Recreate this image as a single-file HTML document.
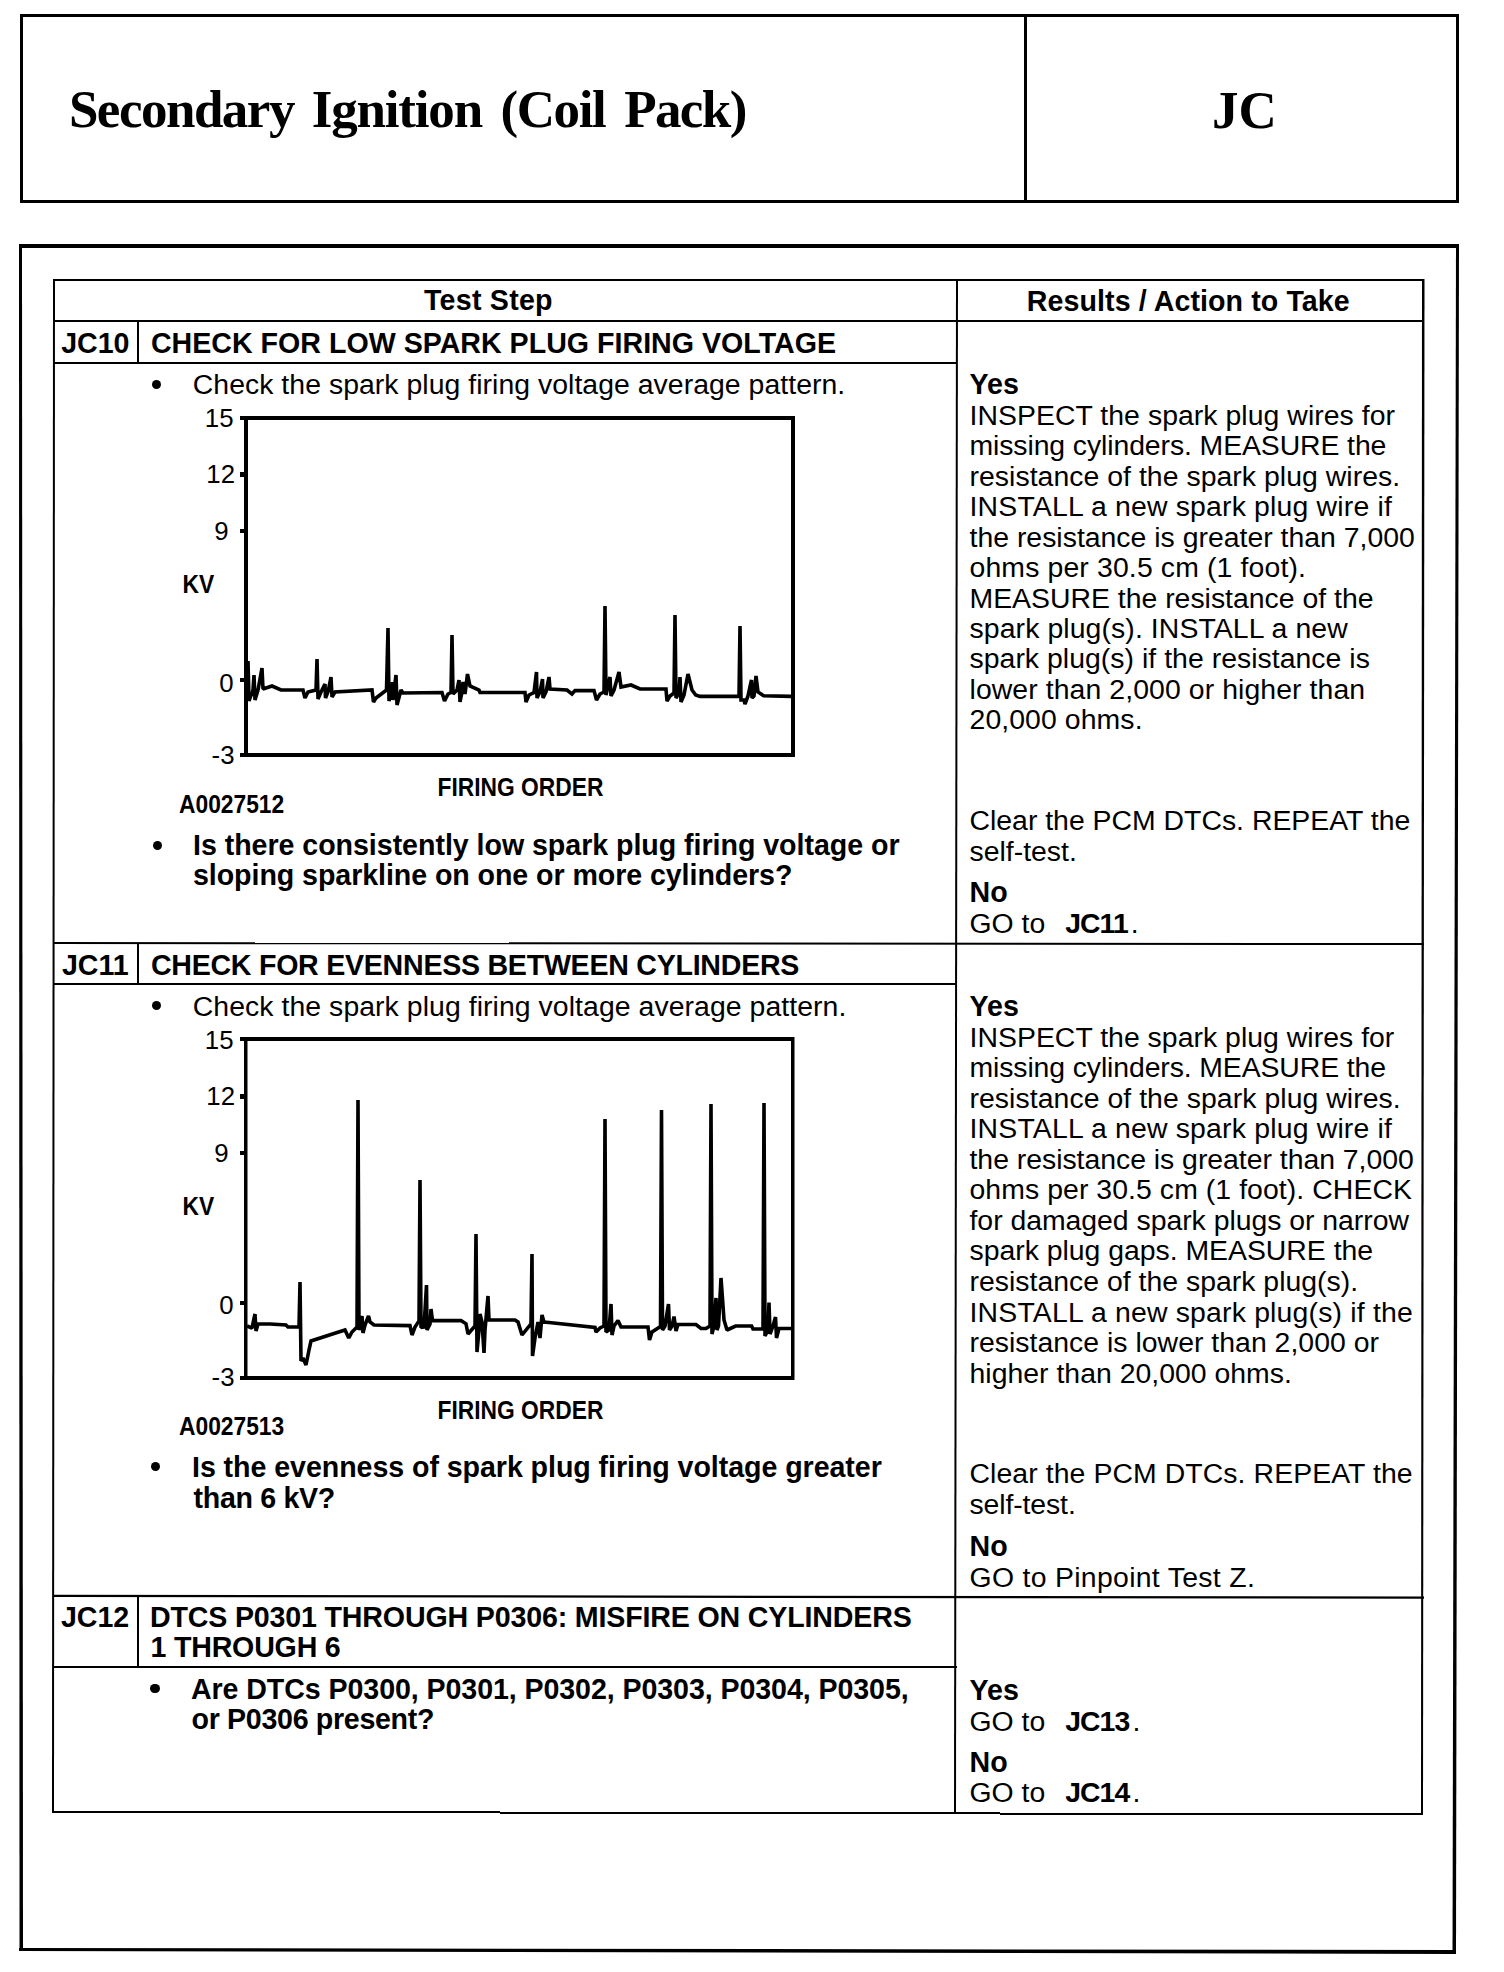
<!DOCTYPE html>
<html><head><meta charset="utf-8"><style>
html,body{margin:0;padding:0;background:#fff;}
body{width:1504px;height:1972px;position:relative;overflow:hidden;color:#000;font-family:'Liberation Sans', sans-serif;}
.t{position:absolute;white-space:pre;line-height:1;}
.r{position:absolute;background:#000;}
.g{position:absolute;left:0;top:0;}
.b{position:absolute;background:#000;border-radius:50%;}
</style></head><body>
<div class="r" style="left:20px;top:14px;width:1439px;height:3px"></div><div class="r" style="left:20px;top:200px;width:1439px;height:3px"></div><div class="r" style="left:20px;top:14px;width:3px;height:189px"></div><div class="r" style="left:1456px;top:14px;width:3px;height:189px"></div><div class="r" style="left:1024px;top:14px;width:3px;height:189px"></div><div class="r" style="left:19px;top:244px;width:1440px;height:4px"></div><div class="r" style="left:53px;top:279px;width:1371px;height:2px"></div><div class="r" style="left:53px;top:1811px;width:447px;height:2px"></div><div class="r" style="left:500px;top:1812px;width:500px;height:2px"></div><div class="r" style="left:1000px;top:1813px;width:423px;height:2px"></div><div class="r" style="left:53px;top:320px;width:1371px;height:2px"></div><div class="r" style="left:53px;top:362px;width:904px;height:2px"></div><div class="r" style="left:137px;top:321px;width:2px;height:42px"></div><div class="r" style="left:53px;top:983px;width:904px;height:2px"></div><div class="r" style="left:137px;top:943px;width:2px;height:41px"></div><div class="r" style="left:53px;top:1666px;width:904px;height:2px"></div><div class="r" style="left:137px;top:1596px;width:2px;height:71px"></div><div class="b" style="left:151.80px;top:379.80px;width:9.4px;height:9.4px"></div><div class="b" style="left:152.80px;top:840.80px;width:9.4px;height:9.4px"></div><div class="b" style="left:151.80px;top:1000.60px;width:9.4px;height:9.4px"></div><div class="b" style="left:150.80px;top:1461.80px;width:9.4px;height:9.4px"></div><div class="b" style="left:150.30px;top:1683.80px;width:9.4px;height:9.4px"></div>
<svg class="g" width="1504" height="1972" viewBox="0 0 1504 1972">
<g fill="#000">
<polygon points="19,1948 1456,1950 1456,1954 19,1951"/><polygon points="19,244 22,244 23,1951 19.5,1951"/><polygon points="1456,244 1459,244 1456,1954 1452.5,1954"/><polygon points="53,279 55,279 54,1813 52,1813"/><polygon points="1422,279 1424.5,279 1423,1815 1421,1815"/><polygon points="956,279 958,279 956,1814 954,1814"/><polygon points="53,942 1424,943 1424,945 53,944"/><polygon points="53,1594.8 1424,1596.5 1424,1598.7 53,1597"/>
<rect x="240" y="416" width="555" height="4"/>
<rect x="240" y="753" width="555" height="4"/>
<rect x="244" y="416" width="4" height="341"/>
<rect x="791" y="416" width="4" height="341"/>
<rect x="240" y="472" width="5" height="5"/>
<rect x="240" y="529" width="5" height="4"/>
<rect x="240" y="678" width="5" height="4"/>
<rect x="240" y="1037" width="554" height="4"/>
<rect x="240" y="1376" width="554" height="4"/>
<rect x="244" y="1037" width="3.5" height="343"/>
<rect x="791" y="1037" width="3.5" height="343"/>
<rect x="240" y="1094" width="5" height="5"/>
<rect x="240" y="1151" width="5" height="4"/>
<rect x="240" y="1301" width="5" height="4"/>
</g>
<g fill="none" stroke="#000" stroke-linejoin="miter" stroke-miterlimit="1.5">
<path d="M247,686 L248,661 L249,701 L253,690 L254,675 L255,700 L258,690 L262,668 L263,689 L272,686 L281,690 L303,690 L305,698 L308,692 L316,690 L317,659 L318,699 L321,692 L325,684 L325.5,698 L328,692 L331,677 L332,697 L335,692 L372,690 L373.5,702 L376,698 L386.5,690 L388,628 L389,701 L392,690 L392.5,682 L393,700 L396,675 L397,705 L401,690 L403,693 L442,692.5 L444.5,701 L448,694 L451,692.5 L452,635 L453,694 L457,690 L459,680 L460,702 L462,692 L463,682 L465,694 L467.5,674 L470,686 L479,690 L480,692.5 L525,692.5 L526,702 L529,695 L534,692.5 L536.5,672 L537,698 L540,692 L542.5,679 L543,698 L546,692 L549,677 L550,689 L567,690 L572,694 L575,690.6 L594,690.6 L596.5,700 L600,694 L604,692 L605,606 L606,695 L610,677 L611,696 L614,690 L619,672 L621,687 L631,685 L640,689 L666,689 L667,701 L670,696 L674,693 L675,615 L676,698 L679,693 L680,677 L681,702 L684,695 L688,674 L692,690 L695.7,695 L700,696.4 L739,696.4 L740,626 L741,700 L744,700 L745,704 L748,696 L751.5,680 L752,698 L754,696 L756,676 L758,692 L763.6,695.7 L791,696.4" stroke-width="3.6"/>
<path d="M247,1326 L252,1328 L255,1314 L256,1331 L258,1324 L270,1324 L286,1325 L288,1327 L299,1327 L300,1282 L301,1361 L303,1358 L306,1365 L309,1350 L311,1341 L332.5,1334 L345,1330 L348.75,1338 L352,1332 L357,1327 L358,1100 L359,1330 L362,1316 L363,1333 L365,1325 L368.5,1316 L370,1322 L374,1325 L410,1325.6 L412,1335 L415,1327 L419,1321 L420,1180 L421,1327.5 L424,1327 L426.5,1285 L427,1330 L430,1324 L431,1309 L432.5,1320.6 L461,1320.6 L466,1323.75 L468,1334 L475,1326 L476,1234 L477,1352 L479,1330 L480,1314 L482,1322 L484,1353 L485,1330 L488,1296 L489,1320 L515,1320 L518,1322 L522,1335 L531,1323.75 L532,1254 L532.5,1356 L535,1338 L538,1322 L540,1338 L542,1315 L544,1322 L549,1322.5 L595,1327.5 L596,1332 L600,1328 L604,1326 L605,1119 L606,1332 L609,1330 L611,1304 L612,1335 L614,1326 L618,1320.5 L621,1327 L648,1327 L649.5,1340 L652,1332 L660.5,1326.5 L661.5,1110 L662.5,1330 L665,1326 L668.5,1304 L669.5,1330 L672,1326 L674,1316.5 L676,1331 L678,1324.5 L696,1324.5 L701,1328.5 L706,1328.5 L710,1326 L711,1104 L712,1334 L714,1326 L716,1298 L717,1330 L718.5,1326 L721,1278 L724,1320 L727,1330 L735.6,1326 L751.6,1326 L753,1329 L763,1329 L764,1103 L765,1336 L768,1330 L769,1302.6 L770,1334 L773,1326 L775.5,1317 L776.5,1338 L779,1328.5 L791,1328.5" stroke-width="3.6"/>
</g></svg>
<div class="t" style="left:68.90px;top:83.41px;font-size:53px;font-weight:bold;font-family:'Liberation Serif', serif;letter-spacing:-1.5px;">Secondary</div>
<div class="t" style="left:311.80px;top:83.41px;font-size:53px;font-weight:bold;font-family:'Liberation Serif', serif;letter-spacing:-1.19px;">Ignition</div>
<div class="t" style="left:500.50px;top:83.41px;font-size:53px;font-weight:bold;font-family:'Liberation Serif', serif;letter-spacing:-1.4px;">(Coil</div>
<div class="t" style="left:624.20px;top:83.41px;font-size:53px;font-weight:bold;font-family:'Liberation Serif', serif;letter-spacing:-1.6px;">Pack)</div>
<div class="t" style="left:1211.90px;top:83.61px;font-size:53px;font-weight:bold;font-family:'Liberation Serif', serif;">JC</div>
<div class="t" style="left:424.00px;top:286.39px;font-size:28.6px;font-weight:bold;font-family:'Liberation Sans', sans-serif;letter-spacing:0.250px;">Test Step</div>
<div class="t" style="left:1026.75px;top:286.79px;font-size:28.6px;font-weight:bold;font-family:'Liberation Sans', sans-serif;letter-spacing:0.087px;">Results / Action to Take</div>
<div class="t" style="left:61.25px;top:328.79px;font-size:28.6px;font-weight:bold;font-family:'Liberation Sans', sans-serif;letter-spacing:-0.083px;">JC10</div>
<div class="t" style="left:150.90px;top:328.79px;font-size:28.6px;font-weight:bold;font-family:'Liberation Sans', sans-serif;letter-spacing:0.013px;">CHECK FOR LOW SPARK PLUG FIRING VOLTAGE</div>
<div class="t" style="left:192.75px;top:369.96px;font-size:28.4px;font-family:'Liberation Sans', sans-serif;letter-spacing:0.044px;">Check the spark plug firing voltage average pattern.</div>
<div class="t" style="left:193.00px;top:830.59px;font-size:28.6px;font-weight:bold;font-family:'Liberation Sans', sans-serif;letter-spacing:-0.040px;">Is there consistently low spark plug firing voltage or</div>
<div class="t" style="left:193.00px;top:860.69px;font-size:28.6px;font-weight:bold;font-family:'Liberation Sans', sans-serif;letter-spacing:-0.067px;">sloping sparkline on one or more cylinders?</div>
<div class="t" style="left:61.90px;top:950.79px;font-size:28.6px;font-weight:bold;font-family:'Liberation Sans', sans-serif;letter-spacing:0.000px;">JC11</div>
<div class="t" style="left:150.90px;top:950.79px;font-size:28.6px;font-weight:bold;font-family:'Liberation Sans', sans-serif;letter-spacing:-0.263px;">CHECK FOR EVENNESS BETWEEN CYLINDERS</div>
<div class="t" style="left:192.75px;top:991.56px;font-size:28.4px;font-family:'Liberation Sans', sans-serif;letter-spacing:0.066px;">Check the spark plug firing voltage average pattern.</div>
<div class="t" style="left:192.00px;top:1452.79px;font-size:28.6px;font-weight:bold;font-family:'Liberation Sans', sans-serif;letter-spacing:-0.059px;">Is the evenness of spark plug firing voltage greater</div>
<div class="t" style="left:193.50px;top:1483.79px;font-size:28.6px;font-weight:bold;font-family:'Liberation Sans', sans-serif;letter-spacing:-0.306px;">than 6 kV?</div>
<div class="t" style="left:60.90px;top:1602.79px;font-size:28.6px;font-weight:bold;font-family:'Liberation Sans', sans-serif;letter-spacing:0.000px;">JC12</div>
<div class="t" style="left:149.90px;top:1602.79px;font-size:28.6px;font-weight:bold;font-family:'Liberation Sans', sans-serif;letter-spacing:-0.159px;">DTCS P0301 THROUGH P0306: MISFIRE ON CYLINDERS</div>
<div class="t" style="left:150.50px;top:1632.79px;font-size:28.6px;font-weight:bold;font-family:'Liberation Sans', sans-serif;letter-spacing:-0.200px;">1 THROUGH 6</div>
<div class="t" style="left:191.00px;top:1674.54px;font-size:28.6px;font-weight:bold;font-family:'Liberation Sans', sans-serif;letter-spacing:-0.082px;">Are DTCs P0300, P0301, P0302, P0303, P0304, P0305,</div>
<div class="t" style="left:191.50px;top:1704.79px;font-size:28.6px;font-weight:bold;font-family:'Liberation Sans', sans-serif;letter-spacing:-0.312px;">or P0306 present?</div>
<div class="t" style="left:969.50px;top:369.79px;font-size:28.6px;font-weight:bold;font-family:'Liberation Sans', sans-serif;">Yes</div>
<div class="t" style="left:969.50px;top:400.96px;font-size:28.4px;font-family:'Liberation Sans', sans-serif;letter-spacing:0.052px;">INSPECT the spark plug wires for</div>
<div class="t" style="left:969.50px;top:431.39px;font-size:28.4px;font-family:'Liberation Sans', sans-serif;letter-spacing:-0.097px;">missing cylinders. MEASURE the</div>
<div class="t" style="left:969.50px;top:461.82px;font-size:28.4px;font-family:'Liberation Sans', sans-serif;letter-spacing:0.041px;">resistance of the spark plug wires.</div>
<div class="t" style="left:969.50px;top:492.25px;font-size:28.4px;font-family:'Liberation Sans', sans-serif;letter-spacing:0.187px;">INSTALL a new spark plug wire if</div>
<div class="t" style="left:969.50px;top:522.68px;font-size:28.4px;font-family:'Liberation Sans', sans-serif;letter-spacing:0.009px;">the resistance is greater than 7,000</div>
<div class="t" style="left:969.50px;top:553.11px;font-size:28.4px;font-family:'Liberation Sans', sans-serif;letter-spacing:0.140px;">ohms per 30.5 cm (1 foot).</div>
<div class="t" style="left:969.50px;top:583.54px;font-size:28.4px;font-family:'Liberation Sans', sans-serif;letter-spacing:0.000px;">MEASURE the resistance of the</div>
<div class="t" style="left:969.50px;top:613.97px;font-size:28.4px;font-family:'Liberation Sans', sans-serif;letter-spacing:0.100px;">spark plug(s). INSTALL a new</div>
<div class="t" style="left:969.50px;top:644.40px;font-size:28.4px;font-family:'Liberation Sans', sans-serif;letter-spacing:0.036px;">spark plug(s) if the resistance is</div>
<div class="t" style="left:969.50px;top:674.83px;font-size:28.4px;font-family:'Liberation Sans', sans-serif;letter-spacing:0.087px;">lower than 2,000 or higher than</div>
<div class="t" style="left:969.50px;top:705.26px;font-size:28.4px;font-family:'Liberation Sans', sans-serif;letter-spacing:0.091px;">20,000 ohms.</div>
<div class="t" style="left:969.50px;top:805.96px;font-size:28.4px;font-family:'Liberation Sans', sans-serif;">Clear the PCM DTCs. REPEAT the</div>
<div class="t" style="left:969.50px;top:836.76px;font-size:28.4px;font-family:'Liberation Sans', sans-serif;">self-test.</div>
<div class="t" style="left:969.50px;top:877.79px;font-size:28.6px;font-weight:bold;font-family:'Liberation Sans', sans-serif;">No</div>
<div class="t" style="left:969.50px;top:909.16px;font-size:28.4px;font-family:'Liberation Sans', sans-serif;">GO to <b style="margin-left:12px;margin-right:3px;letter-spacing:-0.9px">JC11</b>.</div>
<div class="t" style="left:969.50px;top:991.79px;font-size:28.6px;font-weight:bold;font-family:'Liberation Sans', sans-serif;">Yes</div>
<div class="t" style="left:969.50px;top:1022.76px;font-size:28.4px;font-family:'Liberation Sans', sans-serif;letter-spacing:0.029px;">INSPECT the spark plug wires for</div>
<div class="t" style="left:969.50px;top:1053.29px;font-size:28.4px;font-family:'Liberation Sans', sans-serif;letter-spacing:-0.110px;">missing cylinders. MEASURE the</div>
<div class="t" style="left:969.50px;top:1083.82px;font-size:28.4px;font-family:'Liberation Sans', sans-serif;letter-spacing:0.059px;">resistance of the spark plug wires.</div>
<div class="t" style="left:969.50px;top:1114.35px;font-size:28.4px;font-family:'Liberation Sans', sans-serif;letter-spacing:0.190px;">INSTALL a new spark plug wire if</div>
<div class="t" style="left:969.50px;top:1144.88px;font-size:28.4px;font-family:'Liberation Sans', sans-serif;letter-spacing:-0.023px;">the resistance is greater than 7,000</div>
<div class="t" style="left:969.50px;top:1175.41px;font-size:28.4px;font-family:'Liberation Sans', sans-serif;letter-spacing:0.071px;">ohms per 30.5 cm (1 foot). CHECK</div>
<div class="t" style="left:969.50px;top:1205.94px;font-size:28.4px;font-family:'Liberation Sans', sans-serif;letter-spacing:-0.025px;">for damaged spark plugs or narrow</div>
<div class="t" style="left:969.50px;top:1236.47px;font-size:28.4px;font-family:'Liberation Sans', sans-serif;letter-spacing:-0.015px;">spark plug gaps. MEASURE the</div>
<div class="t" style="left:969.50px;top:1267.00px;font-size:28.4px;font-family:'Liberation Sans', sans-serif;letter-spacing:0.013px;">resistance of the spark plug(s).</div>
<div class="t" style="left:969.50px;top:1297.53px;font-size:28.4px;font-family:'Liberation Sans', sans-serif;letter-spacing:0.188px;">INSTALL a new spark plug(s) if the</div>
<div class="t" style="left:969.50px;top:1328.06px;font-size:28.4px;font-family:'Liberation Sans', sans-serif;letter-spacing:0.022px;">resistance is lower than 2,000 or</div>
<div class="t" style="left:969.50px;top:1358.59px;font-size:28.4px;font-family:'Liberation Sans', sans-serif;letter-spacing:0.017px;">higher than 20,000 ohms.</div>
<div class="t" style="left:969.50px;top:1458.76px;font-size:28.4px;font-family:'Liberation Sans', sans-serif;letter-spacing:0.083px;">Clear the PCM DTCs. REPEAT the</div>
<div class="t" style="left:969.50px;top:1489.86px;font-size:28.4px;font-family:'Liberation Sans', sans-serif;letter-spacing:-0.111px;">self-test.</div>
<div class="t" style="left:969.50px;top:1531.79px;font-size:28.6px;font-weight:bold;font-family:'Liberation Sans', sans-serif;">No</div>
<div class="t" style="left:969.50px;top:1562.96px;font-size:28.4px;font-family:'Liberation Sans', sans-serif;letter-spacing:0.310px;">GO to Pinpoint Test Z.</div>
<div class="t" style="left:969.50px;top:1676.29px;font-size:28.6px;font-weight:bold;font-family:'Liberation Sans', sans-serif;">Yes</div>
<div class="t" style="left:969.50px;top:1706.96px;font-size:28.4px;font-family:'Liberation Sans', sans-serif;">GO to <b style="margin-left:12px;margin-right:3px;letter-spacing:-0.9px">JC13</b>.</div>
<div class="t" style="left:969.50px;top:1748.09px;font-size:28.6px;font-weight:bold;font-family:'Liberation Sans', sans-serif;">No</div>
<div class="t" style="left:969.50px;top:1778.46px;font-size:28.4px;font-family:'Liberation Sans', sans-serif;">GO to <b style="margin-left:12px;margin-right:3px;letter-spacing:-0.9px">JC14</b>.</div>
<div class="t" style="left:120px;width:113.5px;text-align:right;top:406.16px;font-size:25.8px;font-family:'Liberation Sans', sans-serif">15</div>
<div class="t" style="left:120px;width:115px;text-align:right;top:462.36px;font-size:25.8px;font-family:'Liberation Sans', sans-serif">12</div>
<div class="t" style="left:120px;width:108.5px;text-align:right;top:518.56px;font-size:25.8px;font-family:'Liberation Sans', sans-serif">9</div>
<div class="t" style="left:120px;width:113.5px;text-align:right;top:670.56px;font-size:25.8px;font-family:'Liberation Sans', sans-serif">0</div>
<div class="t" style="left:120px;width:114.5px;text-align:right;top:742.56px;font-size:25.8px;font-family:'Liberation Sans', sans-serif">-3</div>
<div class="t" style="left:182.5px;top:574.20px;font-size:22.8px;font-weight:bold;font-family:'Liberation Sans', sans-serif;transform:scaleY(1.1);transform-origin:0 19.30px">KV</div>
<div class="t" style="left:437.5px;top:776.70px;font-size:22.8px;font-weight:bold;font-family:'Liberation Sans', sans-serif;transform:scaleY(1.1);transform-origin:0 19.30px">FIRING ORDER</div>
<div class="t" style="left:179px;top:794.20px;font-size:22.8px;font-weight:bold;font-family:'Liberation Sans', sans-serif;transform:scaleY(1.1);transform-origin:0 19.30px">A0027512</div>
<div class="t" style="left:120px;width:113.5px;text-align:right;top:1028.16px;font-size:25.8px;font-family:'Liberation Sans', sans-serif">15</div>
<div class="t" style="left:120px;width:115px;text-align:right;top:1084.36px;font-size:25.8px;font-family:'Liberation Sans', sans-serif">12</div>
<div class="t" style="left:120px;width:108.5px;text-align:right;top:1140.56px;font-size:25.8px;font-family:'Liberation Sans', sans-serif">9</div>
<div class="t" style="left:120px;width:113.5px;text-align:right;top:1292.56px;font-size:25.8px;font-family:'Liberation Sans', sans-serif">0</div>
<div class="t" style="left:120px;width:114.5px;text-align:right;top:1364.56px;font-size:25.8px;font-family:'Liberation Sans', sans-serif">-3</div>
<div class="t" style="left:182.5px;top:1196.20px;font-size:22.8px;font-weight:bold;font-family:'Liberation Sans', sans-serif;transform:scaleY(1.1);transform-origin:0 19.30px">KV</div>
<div class="t" style="left:437.5px;top:1399.90px;font-size:22.8px;font-weight:bold;font-family:'Liberation Sans', sans-serif;transform:scaleY(1.1);transform-origin:0 19.30px">FIRING ORDER</div>
<div class="t" style="left:179px;top:1416.20px;font-size:22.8px;font-weight:bold;font-family:'Liberation Sans', sans-serif;transform:scaleY(1.1);transform-origin:0 19.30px">A0027513</div>
</body></html>
